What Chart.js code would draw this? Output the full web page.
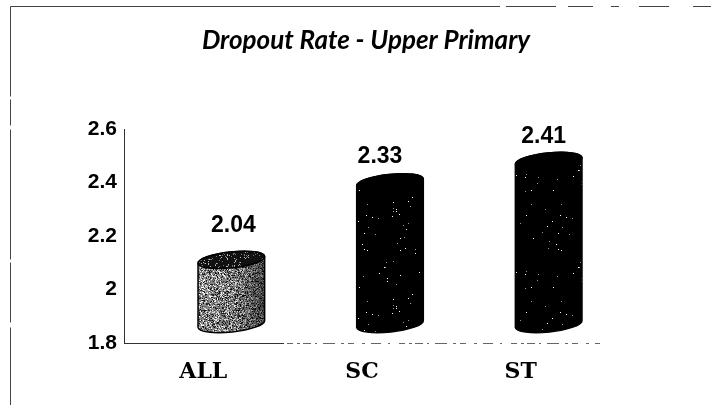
<!DOCTYPE html>
<html>
<head>
<meta charset="utf-8">
<style>html,body{margin:0;padding:0;background:#fff}canvas{display:block}</style>
<script src="https://cdn.jsdelivr.net/npm/chart.js@4"></script>
</head>
<body>
<canvas id="c" width="712" height="405"></canvas>
<script>
const categories = ['ALL', 'SC', 'ST'];
const dropoutRates = [2.04, 2.33, 2.41];
const yTickLabels = {1.8: '1.8', 2: '2', 2.2: '2.2', 2.4: '2.4', 2.6: '2.6'};
const chartTitle = 'Dropout Rate - Upper Primary';

function speckle(base, spot, density, spread) {
  const cv = document.createElement('canvas');
  cv.width = cv.height = 97;
  const g = cv.getContext('2d');
  g.fillStyle = base;
  g.fillRect(0, 0, 97, 97);
  let s = 12345;
  const next = () => (s = (s * 1103515245 + 12345) & 0x7fffffff) / 0x7fffffff;
  for (let y = 0; y < 97; y++) for (let x = 0; x < 97; x++) {
    if (next() < density) {
      g.fillStyle = spot[Math.floor(next() * spot.length)];
      g.fillRect(x, y, spread, spread);
    }
  }
  return cv;
}

const depthX = 28, depthY = -19, rx = 33.5, ry = 8, tilt = -6 * Math.PI / 180;
const labelNudgeX = [2, -10, -5];
const labelNudgeY = [0, 8, 10];

const cylinderPlugin = {
  id: 'cylinders',
  beforeDatasetsDraw(chart) {
    const ctx = chart.ctx;
    const grey = ctx.createPattern(speckle('#8e8e8e', ['#ffffff', '#dddddd', '#333333', '#111111', '#666666'], 0.55, 1), 'repeat');
    const dark = ctx.createPattern(speckle('#000000', ['#ffffff', '#999999'], 0.005, 1), 'repeat');
    const lid = ctx.createPattern(speckle('#111111', ['#777777', '#bbbbbb'], 0.12, 1), 'repeat');
    chart.getDatasetMeta(0).data.forEach((bar, i) => {
      const cx = bar.x + depthX, ty = bar.y + depthY, by = bar.base + depthY;
      ctx.save();
      ctx.beginPath();
      ctx.ellipse(cx, by, rx, ry, tilt, 0, Math.PI);
      ctx.ellipse(cx, ty, rx, ry, tilt, Math.PI, 2 * Math.PI);
      ctx.closePath();
      ctx.fillStyle = i === 0 ? grey : dark;
      ctx.fill();
      if (i === 0) {
        const sh = ctx.createLinearGradient(cx - rx, 0, cx + rx, 0);
        sh.addColorStop(0, 'rgba(0,0,0,0)');
        sh.addColorStop(0.55, 'rgba(0,0,0,0.1)');
        sh.addColorStop(1, 'rgba(0,0,0,0.55)');
        ctx.fillStyle = sh;
        ctx.fill();
      }
      ctx.lineWidth = 1.5;
      ctx.strokeStyle = '#000';
      ctx.stroke();
      ctx.beginPath();
      ctx.ellipse(cx, ty, rx, ry, tilt, 0, 2 * Math.PI);
      ctx.fillStyle = i === 0 ? lid : '#000';
      ctx.fill();
      ctx.stroke();
      ctx.restore();
    });
  },
  afterDatasetsDraw(chart) {
    const ctx = chart.ctx;
    ctx.save();
    ctx.fillStyle = '#000';
    ctx.font = 'bold 23px "Liberation Sans"';
    ctx.textAlign = 'center';
    ctx.textBaseline = 'middle';
    chart.getDatasetMeta(0).data.forEach((bar, i) => {
      ctx.fillText(dropoutRates[i].toFixed(2), bar.x + depthX + labelNudgeX[i], bar.y + depthY - 34 + labelNudgeY[i]);
    });
    ctx.restore();
  }
};

const framePlugin = {
  id: 'frame',
  beforeDraw(chart) {
    const ctx = chart.ctx;
    ctx.save();
    ctx.strokeStyle = '#444';
    ctx.lineWidth = 1;
    ctx.beginPath();
    ctx.moveTo(10.5, 6.5);
    ctx.lineTo(470, 6.5);
    ctx.stroke();
    ctx.beginPath();
    ctx.setLineDash([30, 6, 50, 12, 25, 18, 8, 20, 30, 24, 18, 30]);
    ctx.moveTo(470, 6.5);
    ctx.lineTo(712, 6.5);
    ctx.stroke();
    ctx.beginPath();
    ctx.setLineDash([90, 3, 26, 4, 130, 3, 60, 5, 120]);
    ctx.moveTo(10.5, 6.5);
    ctx.lineTo(10.5, 405);
    ctx.stroke();
    ctx.restore();
  },
  afterDraw(chart) {
    const ctx = chart.ctx, a = chart.chartArea;
    ctx.save();
    ctx.strokeStyle = '#333';
    ctx.lineWidth = 1;
    ctx.beginPath();
    ctx.moveTo(a.left, a.bottom + 0.5);
    ctx.lineTo(a.left + 160, a.bottom + 0.5);
    ctx.stroke();
    ctx.strokeStyle = '#666';
    ctx.beginPath();
    ctx.setLineDash([6, 4, 3, 3, 8, 4, 2, 6, 12, 6, 3, 4, 6, 8, 3, 6, 10, 7, 2, 9]);
    ctx.moveTo(a.left + 163, a.bottom + 0.5);
    ctx.lineTo(a.right, a.bottom + 0.5);
    ctx.stroke();
    ctx.restore();
  }
};

new Chart(document.getElementById('c'), {
  type: 'bar',
  data: {
    labels: categories,
    datasets: [{
      data: dropoutRates,
      base: 1.8,
      backgroundColor: 'rgba(0,0,0,0)',
      borderWidth: 0,
      barThickness: 67
    }]
  },
  plugins: [framePlugin, cylinderPlugin],
  options: {
    responsive: false,
    animation: false,
    layout: {padding: {left: 20, right: 0, top: 0, bottom: 0}},
    plugins: {
      legend: {display: false},
      tooltip: {enabled: false},
      title: {
        display: true,
        text: chartTitle,
        color: '#000',
        font: {family: '"Lato"', size: 26, weight: 'bold', style: 'italic'},
        padding: {top: 25, bottom: 73}
      }
    },
    scales: {
      x: {
        grid: {display: false, drawTicks: false},
        border: {display: false},
        ticks: {
          color: '#000',
          padding: 16,
          font: {family: '"DejaVu Serif"', size: 22, weight: 'bold'}
        },
        afterFit(s) { s.height = 62; }
      },
      y: {
        min: 1.8,
        max: 2.6,
        grid: {display: false, drawTicks: true, tickLength: 4, tickColor: '#222'},
        border: {display: true, color: '#333', width: 1},
        ticks: {
          stepSize: 0.2,
          color: '#000',
          padding: 3,
          font: {family: '"Liberation Sans"', size: 21, weight: 'bold'},
          callback: v => yTickLabels[Math.round(v * 10) / 10]
        },
        afterFit(s) { s.width = 104; }
      },
      spacer: {
        type: 'linear',
        position: 'right',
        grid: {display: false},
        border: {display: false},
        ticks: {display: false},
        afterFit(s) { s.width = 112; }
      }
    }
  }
});
</script>
</body>
</html>
